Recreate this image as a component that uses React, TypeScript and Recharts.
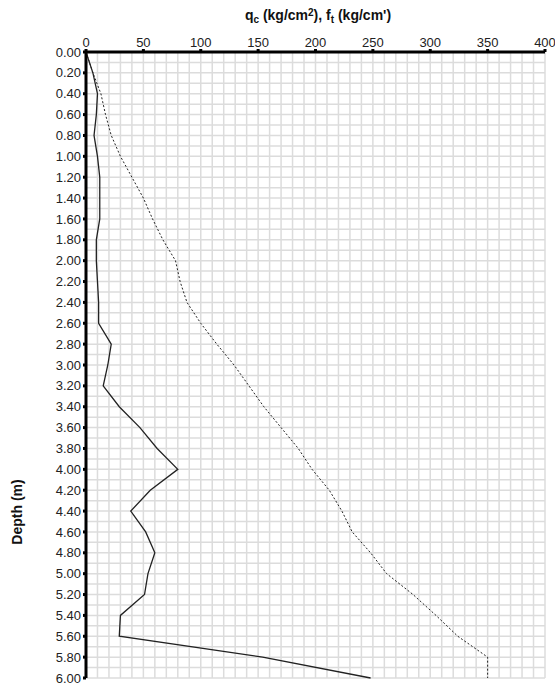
import { CartesianGrid, Line, LineChart, ReferenceLine, XAxis, YAxis } from "recharts";

const depths = [0, 0.2, 0.4, 0.6, 0.8, 1.0, 1.2, 1.4, 1.6, 1.8, 2.0, 2.2, 2.4, 2.6, 2.8, 3.0, 3.2, 3.4, 3.6, 3.8, 4.0, 4.2, 4.4, 4.6, 4.8, 5.0, 5.2, 5.4, 5.6, 5.8, 6.0];
const qc = [0, 6, 13, 17, 22, 30, 40, 50, 58, 67, 78, 82, 88, 100, 114, 129, 142, 155, 170, 185, 197, 212, 223, 232, 248, 262, 285, 305, 324, 350, 350];
const ft = [0, 6, 10, 9, 7, 10, 12, 12, 12, 9, 9, 10, 11, 11, 22, 19, 15, 29, 47, 62, 80, 56, 39, 52, 60, 54, 51, 30, 29, 154, 248];

const xTicks = [0, 50, 100, 150, 200, 250, 300, 350, 400];
const yTicks = Array.from({ length: 31 }, (_, i) => +(i * 0.2).toFixed(1));
const xMinor = Array.from({ length: 41 }, (_, i) => i * 10);
const yMinor = Array.from({ length: 61 }, (_, i) => +(i * 0.1).toFixed(1));

const data = depths.map((d, i) => ({ depth: d, qc: qc[i], ft: ft[i] }));

const font = "Arial, 'Liberation Sans', sans-serif";

export default function App() {
  return (
    <div style={{ position: "absolute", left: 0, top: 0, width: 555, height: 687, background: "#fff", fontFamily: font }}>
      <LineChart width={555} height={687} data={data} layout="vertical" margin={{ top: 22, right: 10, bottom: 9, left: 24 }}>
        <CartesianGrid stroke="#dcdcdc" horizontal={false} vertical={false} />
        {xMinor.map((x) => (
          <ReferenceLine key={"x" + x} x={x} stroke="#dcdcdc" strokeWidth={1.5} />
        ))}
        {yMinor.map((y) => (
          <ReferenceLine key={"y" + y} y={y} stroke="#dcdcdc" strokeWidth={1.5} />
        ))}
        <XAxis
          type="number"
          orientation="top"
          domain={[0, 400]}
          ticks={xTicks}
          height={30}
          axisLine={{ stroke: "#000", strokeWidth: 3 }}
          tickLine={{ stroke: "#000", strokeWidth: 3 }}
          tickSize={3}
          tick={{ fill: "#222", fontSize: 13, fontFamily: font }}
        />
        <YAxis
          type="number"
          dataKey="depth"
          domain={[0, 6]}
          ticks={yTicks}
          interval={0}
          width={62}
          tickFormatter={(v: number) => v.toFixed(2)}
          axisLine={{ stroke: "#000", strokeWidth: 3 }}
          tickLine={{ stroke: "#000", strokeWidth: 3 }}
          tickSize={3}
          tick={{ fill: "#222", fontSize: 13, fontFamily: font }}
        />
        <Line dataKey="qc" stroke="#222" strokeWidth={1} strokeDasharray="2 2" dot={false} isAnimationActive={false} />
        <Line dataKey="ft" stroke="#222" strokeWidth={1.3} dot={false} isAnimationActive={false} />
        <text x={318} y={20} textAnchor="middle" fontSize={14} fontWeight="bold" fontFamily={font} fill="#111">
          q<tspan fontSize={10} dy={3}>c</tspan>
          <tspan dy={-3}> (kg/cm</tspan>
          <tspan fontSize={10} dy={-4}>2</tspan>
          <tspan dy={4}>),  f</tspan>
          <tspan fontSize={10} dy={3}>t</tspan>
          <tspan dy={-3}> (kg/cm')</tspan>
        </text>
        <text x={22} y={512} textAnchor="middle" fontSize={14} fontWeight="bold" fontFamily={font} fill="#111" transform="rotate(-90 22 512)">
          Depth (m)
        </text>
      </LineChart>
    </div>
  );
}
